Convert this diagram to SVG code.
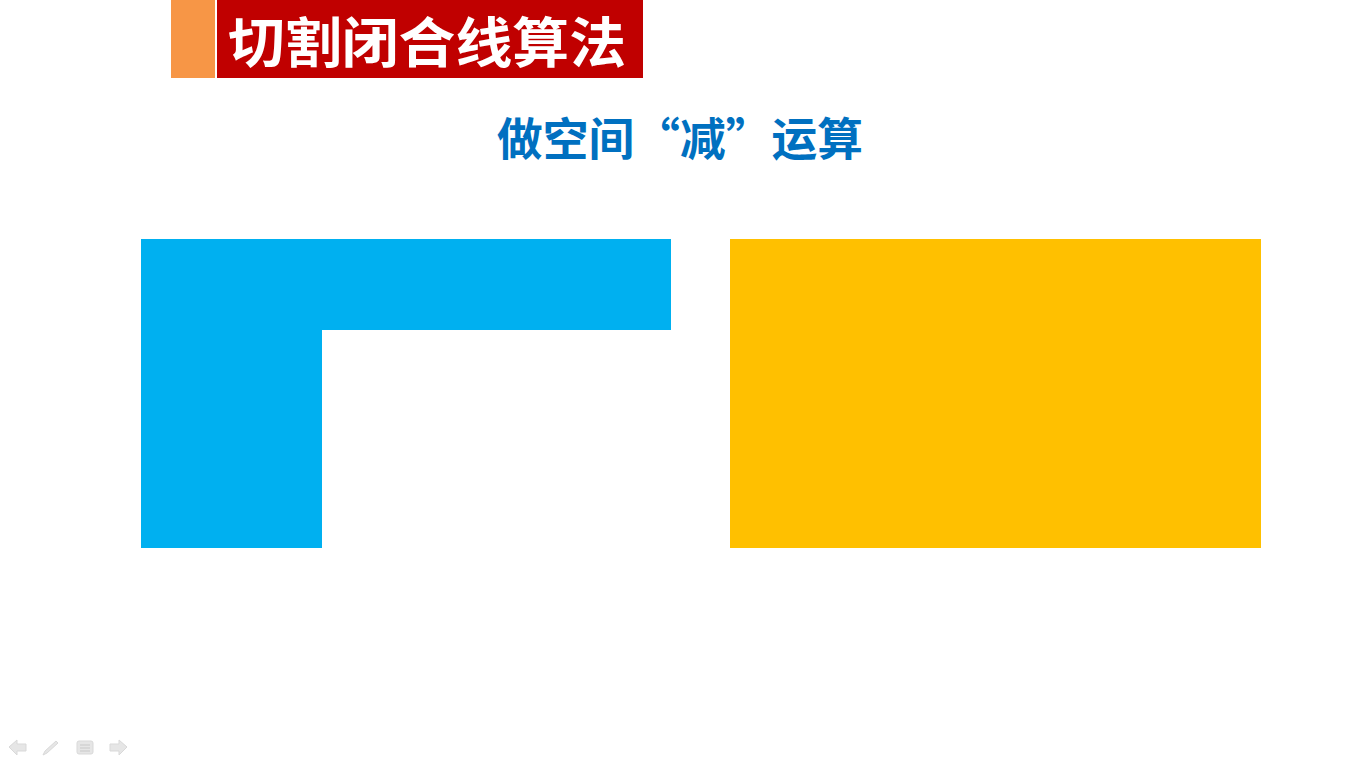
<svg xmlns="http://www.w3.org/2000/svg" width="1366" height="768" viewBox="0 0 1366 768">
<style>
.cjk{font-family:"Noto Sans CJK SC","Noto Sans CJK JP",sans-serif;font-weight:bold}
.nav{fill:#e6e6e6;stroke:#d9d9d9;stroke-width:1}
</style>
<rect width="1366" height="768" fill="#ffffff"/>
<g id="header">
<rect x="171" y="0" width="44" height="78" fill="#F79646"/>
<rect x="217" y="0" width="426" height="78" fill="#C00000"/>
<text class="cjk" x="427" y="63" font-size="54" fill="#ffffff" text-anchor="middle" textLength="398" lengthAdjust="spacingAndGlyphs">切割闭合线算法</text>
</g>
<g id="subtitle">
<text class="cjk" x="680" y="156" font-size="45" fill="#0070C0" text-anchor="middle" textLength="366" lengthAdjust="spacingAndGlyphs">做空间“减”运算</text>
</g>
<g id="blue-shape">
<path d="M141 239 H671 V330 H322 V548 H141 Z" fill="#00B0F0"/>
</g>
<g id="yellow-shape">
<rect x="730" y="239" width="531" height="309" fill="#FFC000"/>
</g>
<g id="nav-icons">
<path class="nav" d="M9 747 L17 740 V744 H26 V751 H17 V755 Z"/>
<path class="nav" d="M43 755 L45 751 L56 741 L58 743 L47 753 Z"/>
<rect class="nav" x="77" y="741" width="16" height="13" rx="2"/>
<line x1="80" y1="745" x2="90" y2="745" stroke="#c8c8c8"/>
<line x1="80" y1="748" x2="90" y2="748" stroke="#c8c8c8"/>
<line x1="80" y1="751" x2="90" y2="751" stroke="#c8c8c8"/>
<path class="nav" d="M127 747 L119 740 V744 H110 V751 H119 V755 Z"/>
</g>
</svg>
